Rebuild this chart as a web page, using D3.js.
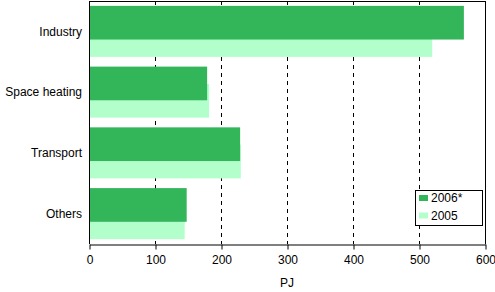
<!DOCTYPE html>
<html><head><meta charset="utf-8">
<script src="https://cdn.jsdelivr.net/npm/d3@7"></script>
<style>body{margin:0;background:#fff}svg{display:block}text{font-family:Arial,"Liberation Sans",sans-serif;font-size:12px;fill:#000}</style>
</head><body>
<svg id="c" width="495" height="292"></svg>
<script>
const categories = ["Industry","Space heating","Transport","Others"];
const series2006 = [568,179,229,148];
const series2005 = [520,182,230,145];
const seriesNames = ["2006*","2005"];
const xTicks = [0,100,200,300,400,500,600];
const axisTitle = "PJ";
const colors = ["#33b55a","#b3ffcc"];

const svg = d3.select("#c");
const L=89,R=485,T=1,B=244;
const x = d3.scaleLinear().domain([0,600]).range([L,R]);
const y = d3.scaleBand().domain(categories).range([T,B]).paddingInner(0.16).paddingOuter(0.08);
const bh = y.bandwidth()*0.66;
const off = y.bandwidth()-bh;

// grid
svg.append("g").selectAll("line").data(xTicks.filter(d=>d>0&&d<600)).join("line")
  .attr("x1",d=>x(d)+0.5).attr("x2",d=>x(d)+0.5).attr("y1",T).attr("y2",B)
  .attr("stroke","#000").attr("stroke-dasharray","4,4");

// 2005 behind
svg.append("g").selectAll("rect").data(categories).join("rect")
  .attr("x",x(0)).attr("y",(d)=>y(d)+off).attr("height",bh)
  .attr("width",(d,i)=>x(series2005[i])-x(0)).attr("fill",colors[1]);
svg.append("g").selectAll("rect").data(categories).join("rect")
  .attr("x",x(0)).attr("y",(d)=>y(d)).attr("height",bh)
  .attr("width",(d,i)=>x(series2006[i])-x(0)).attr("fill",colors[0]);

// frame
svg.append("line").attr("x1",L).attr("x2",R+0.5).attr("y1",T+0.5).attr("y2",T+0.5).attr("stroke","#000");
svg.append("line").attr("x1",R+0.5).attr("x2",R+0.5).attr("y1",T).attr("y2",B).attr("stroke","#000");
svg.append("line").attr("x1",L+0.5).attr("x2",L+0.5).attr("y1",T).attr("y2",B).attr("stroke","#000");

// x axis
const xa = svg.append("g").attr("transform",`translate(0.5,${B+0.5})`)
  .call(d3.axisBottom(x).tickValues(xTicks).tickSize(5).tickPadding(6).tickSizeOuter(0));
xa.select(".domain").attr("stroke","#000");
xa.selectAll("text").style("font-family","Arial,'Liberation Sans',sans-serif").style("font-size","12px").attr("fill","#000");

// y labels
svg.append("g").selectAll("text").data(categories).join("text")
  .attr("x",82).attr("y",d=>y(d)+y.bandwidth()/2).attr("dy","0.35em").attr("text-anchor","end").text(d=>d);

svg.append("text").attr("x",x(300)).attr("y",287).attr("text-anchor","middle").text(axisTitle);

// legend
const lg = svg.append("g");
lg.append("rect").attr("x",415.5).attr("y",190.5).attr("width",67).attr("height",35).attr("fill","#fff").attr("stroke","#000");
seriesNames.forEach((n,i)=>{
  lg.append("rect").attr("x",419).attr("y",195+i*17.5).attr("width",9).attr("height",6).attr("fill",colors[i]);
  lg.append("text").attr("x",431).attr("y",198+i*17.5).attr("dy","0.35em").text(n);
});
</script>
</body></html>
